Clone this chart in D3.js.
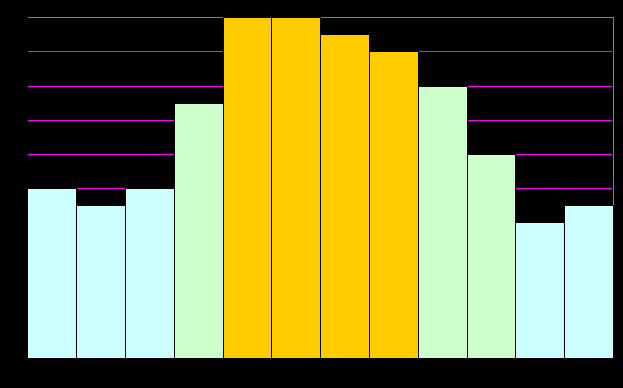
<!DOCTYPE html>
<html>
<head>
<meta charset="utf-8">
<script src="https://cdn.jsdelivr.net/npm/d3@7"></script>
<style>
  html, body { margin: 0; padding: 0; background: #000; }
  svg { display: block; }
</style>
</head>
<body>
<script>
var width = 623, height = 388;

var months = ["Jan","Feb","Mar","Apr","May","Jun","Jul","Aug","Sep","Oct","Nov","Dec"];
var values = [10, 9, 10, 15, 20, 20, 19, 18, 16, 12, 8, 9];
var barColors = ["#CCFFFF","#CCFFFF","#CCFFFF","#CCFFCC","#FFCC00","#FFCC00",
                 "#FFCC00","#FFCC00","#CCFFCC","#CCFFCC","#CCFFFF","#CCFFFF"];
var yTicks = [2, 4, 6, 8, 10, 12, 14, 16, 18];

var svg = d3.select("body")
            .append("svg")
            .attr("width", width)
            .attr("height", height)
            .attr("shape-rendering", "crispEdges")
            .style("background", "#000");

var xScale = d3.scaleBand()
               .domain(months)
               .range([27.9, 613.5])
               .padding(0);

var yScale = d3.scaleLinear()
               .domain([0, 20])
               .range([358.35, 17.35]);

var left = 28, right = 613;
var top0 = Math.round(yScale(20)), base = Math.round(yScale(0));

// magenta gridlines
svg.append("g")
   .selectAll("rect")
   .data(yTicks)
   .enter()
   .append("rect")
   .attr("x", left)
   .attr("width", right - 1 - left)
   .attr("y", function(d){ return Math.round(yScale(d)); })
   .attr("height", 1)
   .attr("fill", "#FF00FF");

// gray frame, top and right
svg.append("rect")
   .attr("x", left).attr("y", top0)
   .attr("width", right - left + 1).attr("height", 1)
   .attr("fill", "#808080");
svg.append("rect")
   .attr("x", right).attr("y", top0)
   .attr("width", 1).attr("height", base - top0 + 1)
   .attr("fill", "#808080");

// bars with a 1px black border
svg.append("g")
   .selectAll("rect")
   .data(values)
   .enter()
   .append("rect")
   .attr("x", function(d, i){ return Math.floor(xScale(months[i])) + 0.5; })
   .attr("y", function(d){ return Math.round(yScale(d)) + 0.5; })
   .attr("width", function(d, i){
       var x0 = Math.floor(xScale(months[i]));
       var x1 = Math.floor(xScale(months[i]) + xScale.bandwidth());
       return x1 - x0;
   })
   .attr("height", function(d){ return base - Math.round(yScale(d)); })
   .attr("fill", function(d, i){ return barColors[i]; })
   .attr("stroke", "#000")
   .attr("stroke-width", 1);
</script>
</body>
</html>
